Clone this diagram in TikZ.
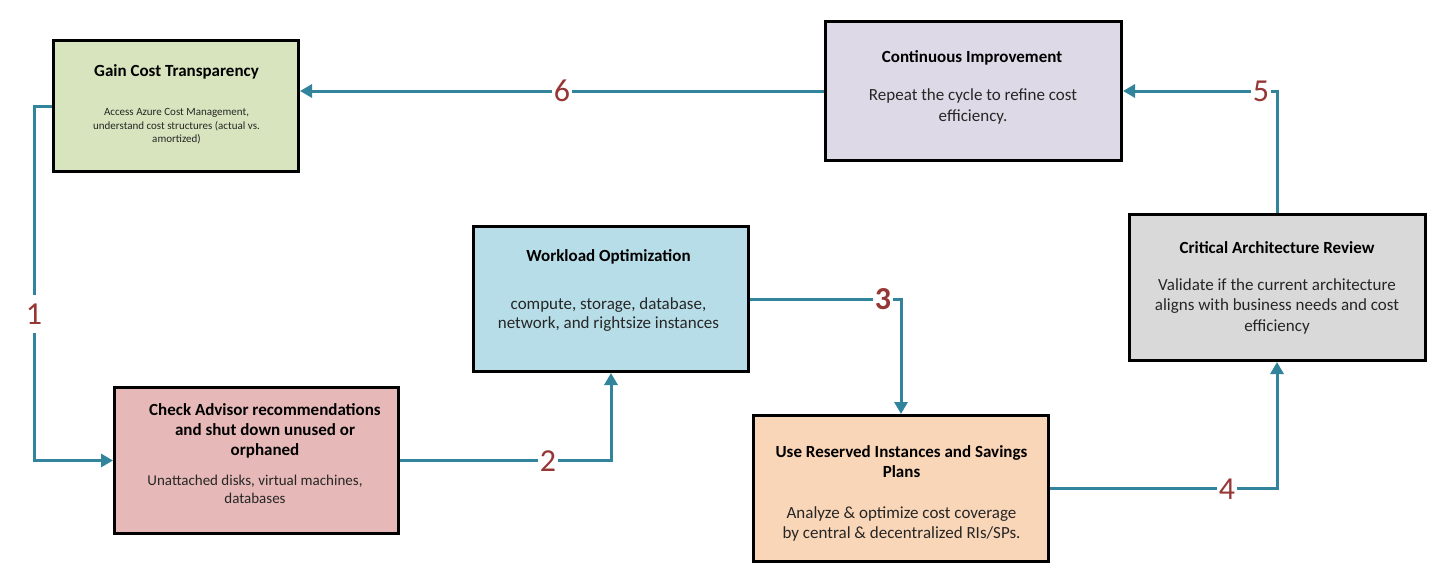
\documentclass[tikz,border=0pt]{standalone}
\usepackage{fontspec}
\setmainfont{Carlito}
\usetikzlibrary{arrows.meta}
\definecolor{arrowteal}{HTML}{31849B}
\definecolor{numred}{HTML}{953735}
\definecolor{bodygray}{HTML}{262626}
\definecolor{fgreen}{HTML}{D7E4BD}
\definecolor{fpurple}{HTML}{DED9E6}
\definecolor{fgray}{HTML}{D9D9D9}
\definecolor{fblue}{HTML}{B7DEE8}
\definecolor{fpink}{HTML}{E6B9B8}
\definecolor{forange}{HTML}{FAD6B8}
\begin{document}
\begin{tikzpicture}[x=1pt,y=-1pt,
  box/.style={draw=black, line width=3pt, rectangle, inner sep=0pt},
  ttl/.style={font=\bfseries\fontsize{17}{20}\selectfont, align=center, text=black, inner sep=0pt},
  bodytxt/.style={font=\fontsize{17}{20.5}\selectfont, align=center, text=bodygray, inner sep=0pt},
  conn/.style={draw=arrowteal, line width=3pt, -{Triangle[length=12pt,width=13pt]}},
  num/.style={fill=white, text=numred, font=\fontsize{32}{36}\selectfont, inner xsep=2pt, inner ysep=0pt, text height=29pt, text depth=9pt}
]
\fill[white] (0,0) rectangle (1453,574);
\useasboundingbox (0,0) rectangle (1453,574);

% boxes
\node[box, fill=fgreen, minimum width=245pt, minimum height=131pt] (g) at (176,106) {};
\node[box, fill=fpurple, minimum width=296pt, minimum height=139pt] (ci) at (973.5,91) {};
\node[box, fill=fgray, minimum width=296pt, minimum height=146pt] (car) at (1277,287.5) {};
\node[box, fill=fblue, minimum width=275pt, minimum height=145pt] (wo) at (611,299) {};
\node[box, fill=fpink, minimum width=284pt, minimum height=146pt] (ca) at (256.5,460.5) {};
\node[box, fill=forange, minimum width=295pt, minimum height=146pt] (ri) at (901,488.5) {};

% texts
\node[ttl] (gt) at (176.5,72) {Gain Cost Transparency};
\node[bodytxt, font=\fontsize{11}{13.5}\selectfont] (gb) at (176.5,126.5) {Access Azure Cost Management,\\ understand cost structures (actual vs.\\ amortized)};

\node[ttl] (cit) at (972,57.7) {Continuous Improvement};
\node[bodytxt] (cib) at (973,106.3) {Repeat the cycle to refine cost\\ efficiency.};

\node[ttl] (cart) at (1277,248) {Critical Architecture Review};
\node[bodytxt] (carb) at (1277,306) {Validate if the current architecture\\ aligns with business needs and cost\\ efficiency};

\node[ttl] (wot) at (608.5,257) {Workload Optimization};
\node[bodytxt, font=\fontsize{17}{19}\selectfont] (wob) at (608.5,314.5) {compute, storage, database,\\ network, and rightsize instances};

\node[ttl] (cat) at (265,430.5) {Check Advisor recommendations\\ and shut down unused or\\ orphaned};
\node[bodytxt, font=\fontsize{15}{18}\selectfont] (cab) at (255,489) {Unattached disks, virtual machines,\\ databases};

\node[ttl] (rit) at (901.5,461.5) {Use Reserved Instances and Savings\\ Plans};
\node[bodytxt, font=\fontsize{17}{20}\selectfont] (rib) at (901.5,524) {Analyze \& optimize cost coverage\\ by central \& decentralized RIs/SPs.};

% connectors
\draw[conn] (g.west) -- ++(-18,0) |- (ca.west);
\draw[conn] (ca.east) -| (wo.south);
\draw[conn] (wo.east) -| (ri.north);
\draw[conn] (ri.east) -| (car.south);
\draw[conn] (car.north) |- (ci.east);
\draw[conn] (ci.west) -- (ci.west -| g.east);

% step numbers
\node[num] (n1) at (34,314) {1};
\node[num] (n2) at (548,461) {2};
\node[num, font=\bfseries\fontsize{32}{36}\selectfont] (n3) at (883,299) {3};
\node[num] (n4) at (1227,489) {4};
\node[num] (n5) at (1261,91) {5};
\node[num] (n6) at (562,91) {6};
\end{tikzpicture}
\end{document}
